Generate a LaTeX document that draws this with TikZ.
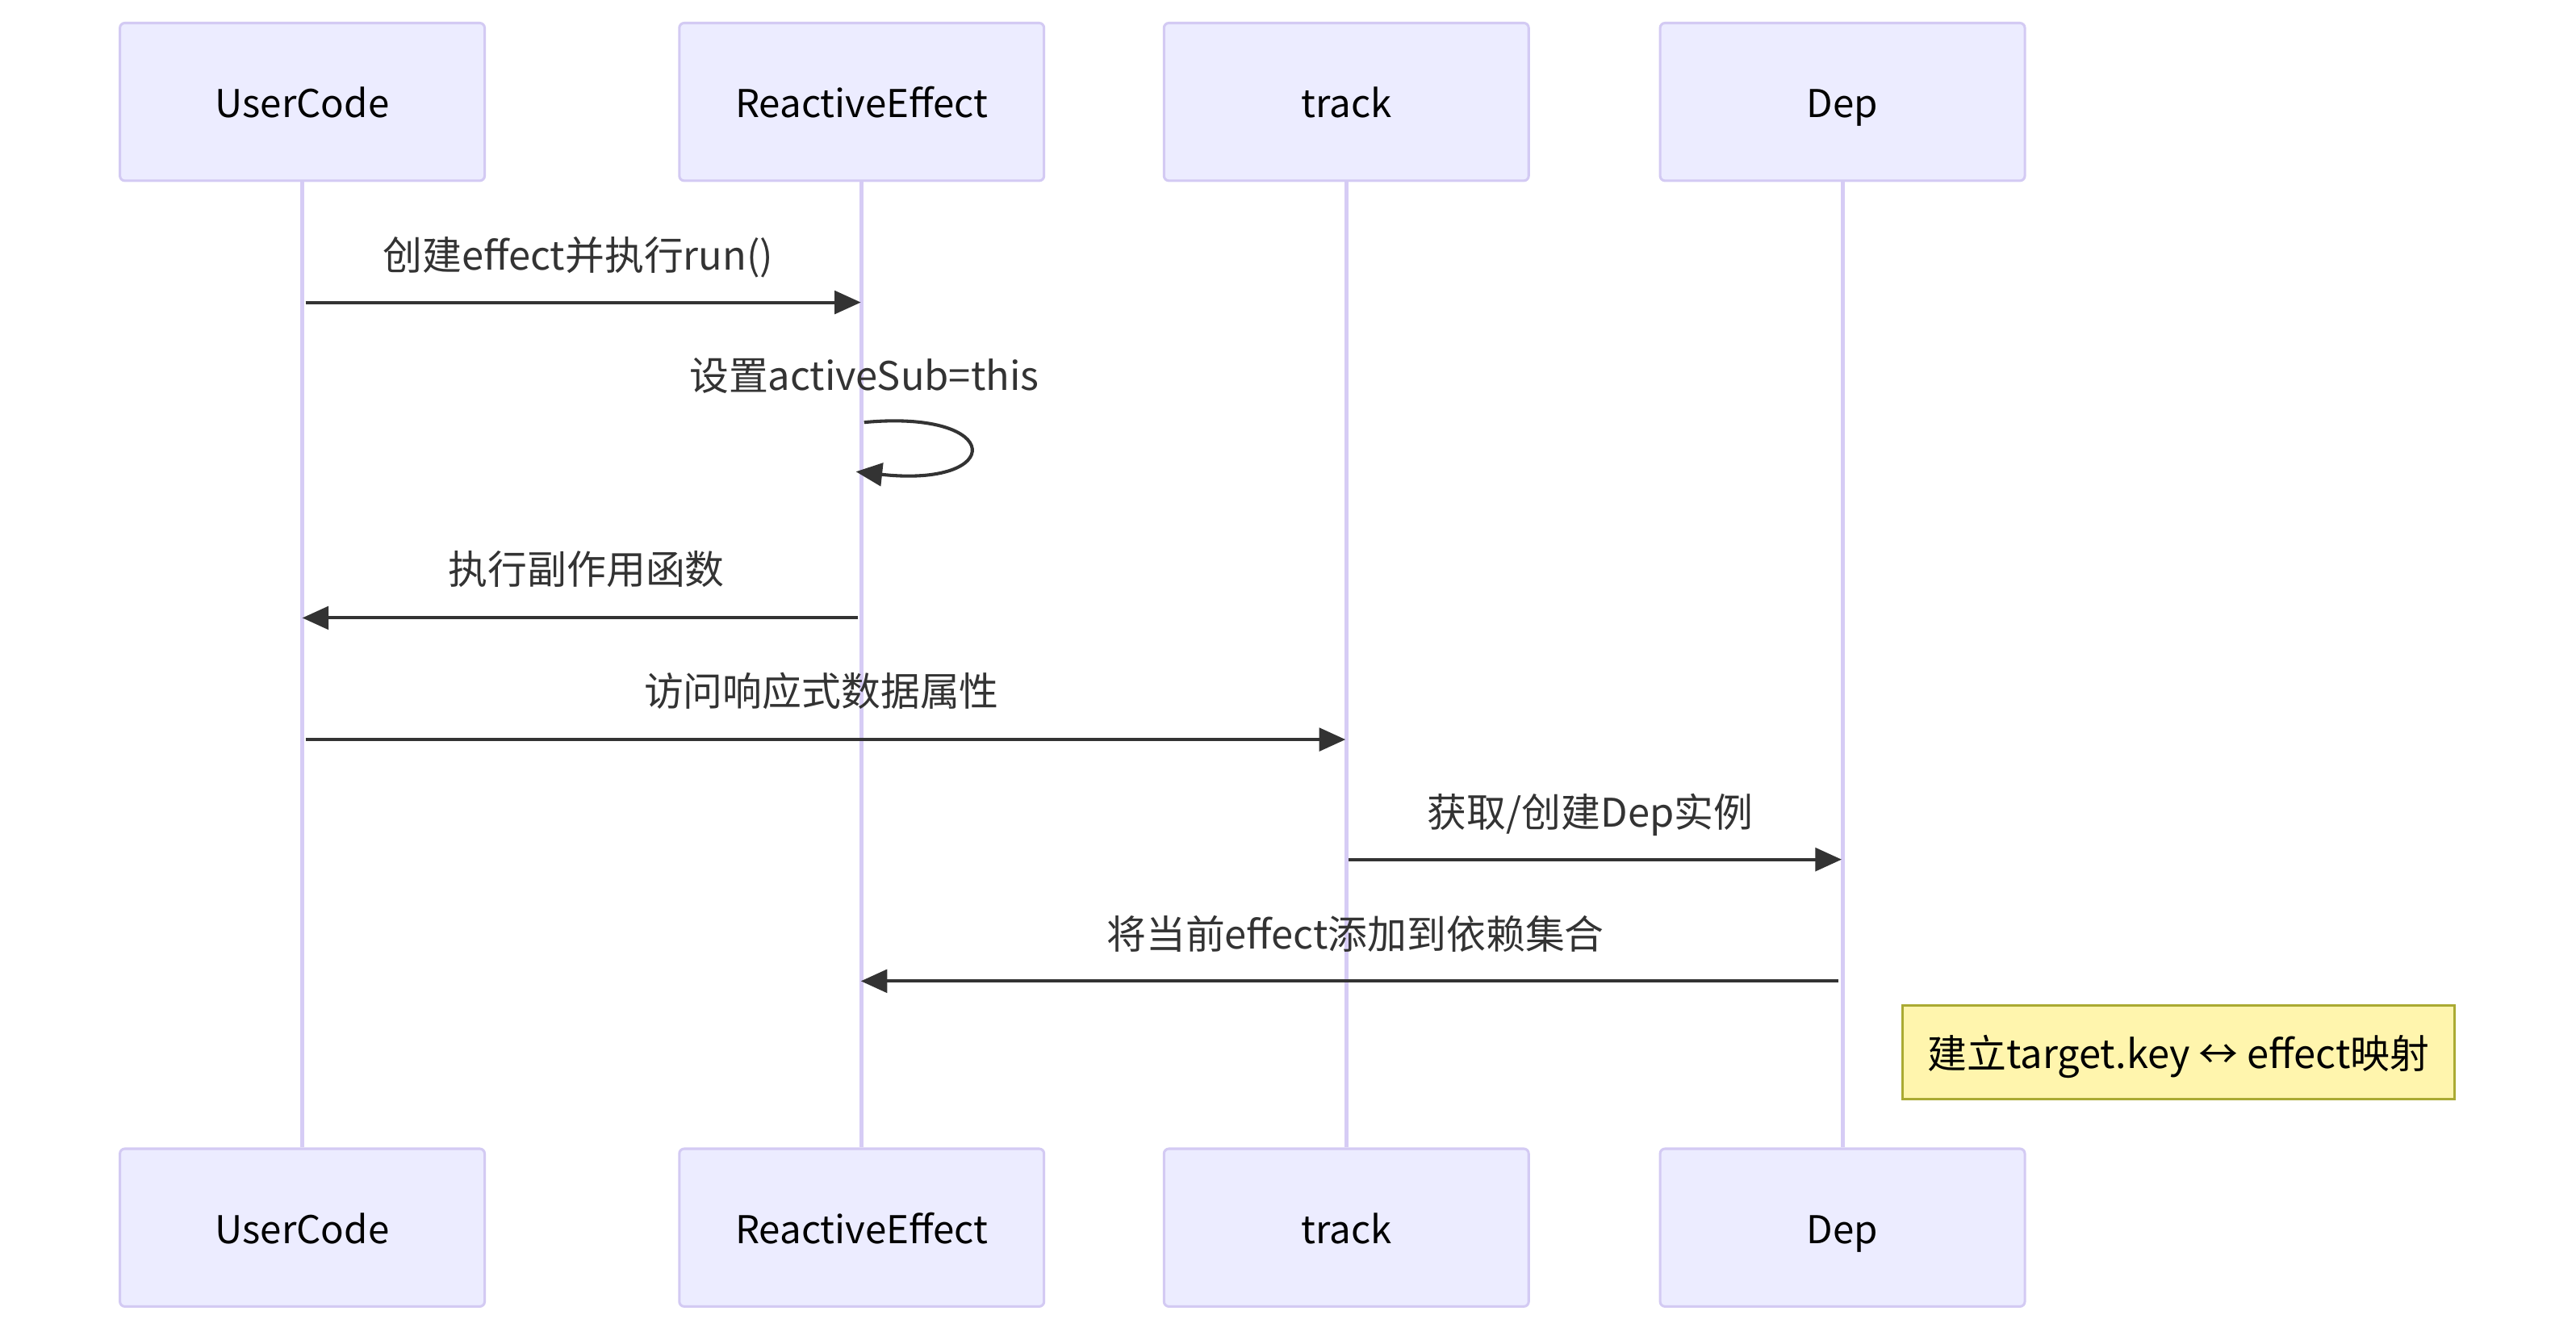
\documentclass[tikz,border=0pt]{standalone}
\usepackage{fontspec}
\setmainfont{Noto Sans CJK SC}
\usetikzlibrary{arrows.meta}
\definecolor{actfill}{HTML}{ECECFF}
\definecolor{actdraw}{HTML}{D3CAF3}
\definecolor{lifeline}{HTML}{D6CCF5}
\definecolor{msg}{HTML}{333333}
\definecolor{notefill}{HTML}{FFF5AD}
\definecolor{notedraw}{HTML}{AAAA33}
\tikzset{
  actor/.style={draw=actdraw, fill=actfill, line width=1.5pt, rounded corners=3pt,
    minimum width=222pt, minimum height=96pt, inner sep=0pt,
    text height=21pt, text depth=2pt,
    font=\fontsize{23.3}{27}\selectfont, text=black},
  life/.style={draw=lifeline, line width=2.5pt},
  message/.style={draw=msg, line width=2pt, -{Triangle[length=16pt,width=14pt]}},
  msglabel/.style={font=\fontsize{24}{28}\selectfont, text=msg, inner sep=0pt,
    text height=21pt, text depth=2pt},
  notebox/.style={draw=notedraw, fill=notefill, line width=1.5pt, minimum width=336pt,
    minimum height=57pt, inner sep=0pt, text height=21pt, text depth=2pt,
    font=\fontsize{24}{28}\selectfont, text=black}
}
\begin{document}
\begin{tikzpicture}[x=1pt,y=-1pt]
\useasboundingbox (0,0) rectangle (1568,810.5);
% actors
\node[actor] (uT) at (184,62) {UserCode};
\node[actor] (rT) at (524.5,62) {ReactiveEffect};
\node[actor] (tT) at (819.5,62) {track};
\node[actor] (dT) at (1121.5,62) {Dep};
\node[actor] (uB) at (184,747) {UserCode};
\node[actor] (rB) at (524.5,747) {ReactiveEffect};
\node[actor] (tB) at (819.5,747) {track};
\node[actor] (dB) at (1121.5,747) {Dep};
% lifelines
\draw[life] (uT.south) -- (uB.north);
\draw[life] (rT.south) -- (rB.north);
\draw[life] (tT.south) -- (tB.north);
\draw[life] (dT.south) -- (dB.north);
% message coordinates
\coordinate (m1a) at (186,184);  \coordinate (m1b) at (524,184);
\coordinate (m2a) at (526,257);  \coordinate (m2b) at (521,287);
\coordinate (m2c1) at (612,249); \coordinate (m2c2) at (612,297);
\coordinate (m3a) at (522,376);  \coordinate (m3b) at (184,376);
\coordinate (m4a) at (186,450);  \coordinate (m4b) at (819,450);
\coordinate (m5a) at (821,523);  \coordinate (m5b) at (1121,523);
\coordinate (m6a) at (1119,597); \coordinate (m6b) at (524,597);
% messages
\draw[message] (m1a) -- (m1b);
\node[msglabel] (l1) at (352,155) {创建effect并执行run()};
\draw[message] (m2a) .. controls (m2c1) and (m2c2) .. (m2b);
\node[msglabel] (l2) at (526,228) {设置activeSub=this};
\draw[message] (m3a) -- (m3b);
\node[msglabel] (l3) at (357,346) {执行副作用函数};
\draw[message] (m4a) -- (m4b);
\node[msglabel] (l4) at (500,420) {访问响应式数据属性};
\draw[message] (m5a) -- (m5b);
\node[msglabel] (l5) at (968,494) {获取/创建Dep实例};
\draw[message] (m6a) -- (m6b);
\node[msglabel] (l6) at (825,568) {将当前effect添加到依赖集合};
% note
\node[notebox] (note) at (1326,640.5) {建立target.key ↔ effect映射};
\end{tikzpicture}
\end{document}
